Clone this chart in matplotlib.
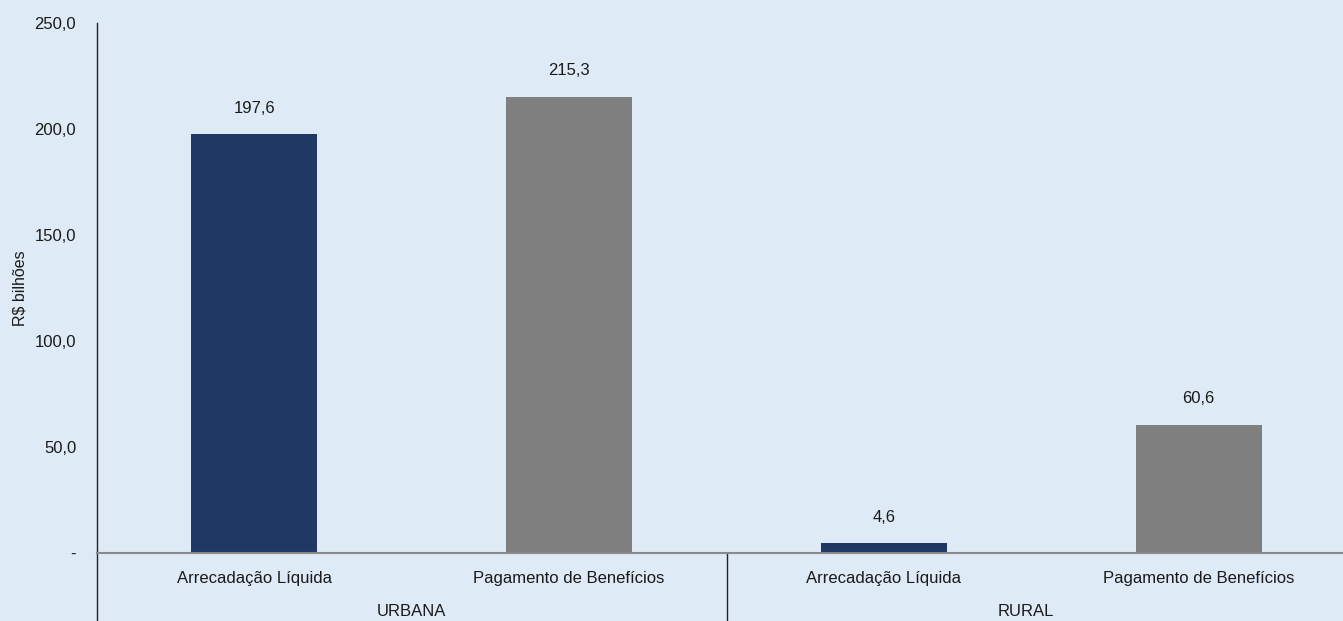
import matplotlib
matplotlib.use("Agg")
import matplotlib.pyplot as plt
from matplotlib import font_manager

# Data
groups = ["URBANA", "RURAL"]
categories = ["Arrecadação Líquida", "Pagamento de Benefícios",
              "Arrecadação Líquida", "Pagamento de Benefícios"]
values = [197.6, 215.3, 4.6, 60.6]
yticks = [0, 50, 100, 150, 200, 250]
ytick_labels = ["-", "50,0", "100,0", "150,0", "200,0", "250,0"]

navy = "#1F3864"
grey = "#7F7F7F"
bg = "#DEEAF6"
colors = [navy, grey, navy, grey]

names = {f.name for f in font_manager.fontManager.ttflist}
fam = ["Liberation Sans Narrow", "Liberation Sans", "DejaVu Sans"]
fam = [f for f in fam if f in names] or ["DejaVu Sans"]
plt.rcParams["font.family"] = fam

W, H = 1343, 621
fig = plt.figure(figsize=(W / 100, H / 100), dpi=100)
fig.patch.set_facecolor(bg)
ax = fig.add_axes([97 / W, 68 / H, 1259 / W, 530 / H])
ax.set_facecolor(bg)

x = list(range(len(values)))
ax.bar(x, values, width=0.4, color=colors, zorder=2)
for xi, v in zip(x, values):
    ax.annotate(f"{v:.1f}".replace(".", ","), (xi, v), xytext=(0, 18.5),
                textcoords="offset points", ha="center", va="center",
                fontsize=12, color="#1a1a1a")

ax.set_xlim(-0.5, len(values) - 0.5)
ax.set_ylim(0, 250)
ax.set_yticks(yticks)
ax.set_yticklabels(ytick_labels, fontsize=12, color="#1a1a1a")
ax.tick_params(axis="y", length=0, pad=15)
ax.set_xticks([])
fig.text(20 / W, 1 - 288 / H, "R$ bilhões", rotation=90, ha="center",
         va="center", fontsize=11.5, color="#1a1a1a")

for s in ["top", "right"]:
    ax.spines[s].set_visible(False)
ax.spines["left"].set_color("#222222")
ax.spines["left"].set_linewidth(1.0)
ax.spines["bottom"].set_color("#8A8A8A")
ax.spines["bottom"].set_linewidth(1.5)

# category and group labels below the axis
trans = ax.get_xaxis_transform()
for xi, c in zip(x, categories):
    ax.text(xi, -25 / 530, c, transform=trans, ha="center", va="center",
            fontsize=12, color="#1a1a1a", clip_on=False)
group_x = [0.5, 2.45]
for gx, g in zip(group_x, groups):
    ax.text(gx, -58 / 530, g, transform=trans, ha="center",
            va="center", fontsize=12, color="#1a1a1a", clip_on=False)

# vertical separators between groups
for xs in [-0.5, 1.5, 3.5]:
    ax.plot([xs, xs], [0, -70 / 530], transform=trans, color="#222222",
            lw=1.0, clip_on=False)

fig.savefig("out.png", dpi=100, facecolor=bg)
